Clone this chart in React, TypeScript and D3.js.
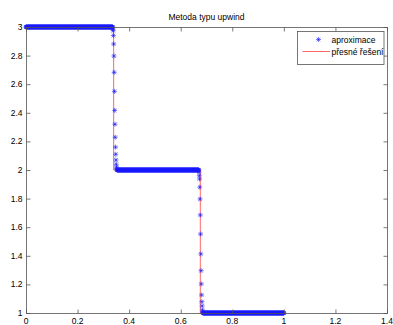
import * as d3 from "d3";

// axes frame in page pixels
const W = 393;
const H = 325;
const box = { left: 26, top: 27, right: 387, bottom: 313 };

const xTicks = [0, 0.2, 0.4, 0.6, 0.8, 1, 1.2, 1.4];
const yTicks = [1, 1.2, 1.4, 1.6, 1.8, 2, 2.2, 2.4, 2.6, 2.8, 3];
const xTickLabels = ["0", "0.2", "0.4", "0.6", "0.8", "1", "1.2", "1.4"];
const yTickLabels = ["1", "1.2", "1.4", "1.6", "1.8", "2", "2.2", "2.4", "2.6", "2.8", "3"];

// numerical solution: plateaus on a grid, with the smeared jumps
const gridStep = 0.001;
const gridEnd = 1;
const plateauLevels = [3, 2, 1];
const jump1Start = 0.337;
const jump1Values = [2.985, 2.974, 2.94, 2.881, 2.797, 2.683, 2.55, 2.417, 2.32, 2.229, 2.16, 2.11, 2.07, 2.04, 2.02, 2.008];
const jump2Start = 0.671;
const jump2Values = [1.985, 1.96, 1.937, 1.88, 1.797, 1.685, 1.552, 1.413, 1.296, 1.203, 1.126, 1.079, 1.049, 1.021, 1.008];

// exact solution (step function)
const exactX = [0, 0.34, 0.34, 0.676, 0.676, 1];
const exactY = [3, 3, 2, 2, 1, 1];

const approx: [number, number][] = [];
const n = Math.round(gridEnd / gridStep);
const j1 = Math.round(jump1Start / gridStep);
const j2 = Math.round(jump2Start / gridStep);
for (let i = 0; i <= n; i++) {
  let v: number;
  if (i < j1) v = plateauLevels[0];
  else if (i < j1 + jump1Values.length) v = jump1Values[i - j1];
  else if (i < j2) v = plateauLevels[1];
  else if (i < j2 + jump2Values.length) v = jump2Values[i - j2];
  else v = plateauLevels[2];
  approx.push([i * gridStep, v]);
}

const font = "'Liberation Sans', Arial, Helvetica, sans-serif";

const star = (cx: number, cy: number, r: number) => {
  const d = r * 0.72;
  return `M${cx - r},${cy}H${cx + r}M${cx},${cy - r}V${cy + r}M${cx - d},${cy - d}L${cx + d},${cy + d}M${cx - d},${cy + d}L${cx + d},${cy - d}`;
};

const App = () => {
  const x = d3.scaleLinear().domain([0, 1.4]).range([box.left, box.right]);
  const y = d3.scaleLinear().domain([1, 3]).range([box.bottom, box.top]);

  const exactLine = d3
    .line<number>()
    .x((d, i) => x(exactX[i]))
    .y((d, i) => y(exactY[i]))(exactX);

  const markers = approx.map(([a, b]) => star(x(a), y(b), 2.5)).join("");
  const tick = 4;

  return (
    <svg width={W} height={H} style={{ position: "absolute", left: 0, top: 0, background: "#fff" }}>
      <rect x={0} y={0} width={W} height={H} fill="#fff" />
      <text x={(box.left + box.right) / 2} y={20} textAnchor="middle" fontFamily={font} fontSize={8.5} fill="#000">
        Metoda typu upwind
      </text>

      <path d={exactLine || ""} fill="none" stroke="#f00" strokeWidth={0.6} />
      <path d={markers} fill="none" stroke="#1a1aff" strokeWidth={0.6} />

      {/* frame */}
      <rect
        x={box.left + 0.5}
        y={box.top + 0.5}
        width={box.right - box.left}
        height={box.bottom - box.top}
        fill="none"
        stroke="#555"
        strokeWidth={0.8}
      />
      {xTicks.map((t, i) => (
        <g key={"x" + i}>
          <line x1={x(t) + 0.5} x2={x(t) + 0.5} y1={box.bottom + 0.5} y2={box.bottom + 0.5 - tick} stroke="#555" strokeWidth={0.8} />
          <line x1={x(t) + 0.5} x2={x(t) + 0.5} y1={box.top + 0.5} y2={box.top + 0.5 + tick} stroke="#555" strokeWidth={0.8} />
          <text x={x(t)} y={324} textAnchor="middle" fontFamily={font} fontSize={8.5} fill="#000">
            {xTickLabels[i]}
          </text>
        </g>
      ))}
      {yTicks.map((t, i) => (
        <g key={"y" + i}>
          <line x1={box.left + 0.5} x2={box.left + 0.5 + tick} y1={y(t) + 0.5} y2={y(t) + 0.5} stroke="#555" strokeWidth={0.8} />
          <line x1={box.right + 0.5} x2={box.right + 0.5 - tick} y1={y(t) + 0.5} y2={y(t) + 0.5} stroke="#555" strokeWidth={0.8} />
          <text x={22.5} y={y(t) + 3} textAnchor="end" fontFamily={font} fontSize={8.5} fill="#000">
            {yTickLabels[i]}
          </text>
        </g>
      ))}

      {/* legend */}
      <rect x={297.5} y={31.5} width={86.5} height={33} fill="#fff" stroke="#555" strokeWidth={0.8} />
      <path d={star(318.5, 39.5, 2.5)} fill="none" stroke="#1a1aff" strokeWidth={0.6} />
      <text x={331.5} y={42.5} fontFamily={font} fontSize={8.5} fill="#000">
        aproximace
      </text>
      <line x1={302.5} x2={330} y1={51.5} y2={51.5} stroke="#f00" strokeWidth={0.6} />
      <text x={331.5} y={54.5} fontFamily={font} fontSize={8.5} fill="#000">
        přesné řešení
      </text>
    </svg>
  );
};

export default App;
